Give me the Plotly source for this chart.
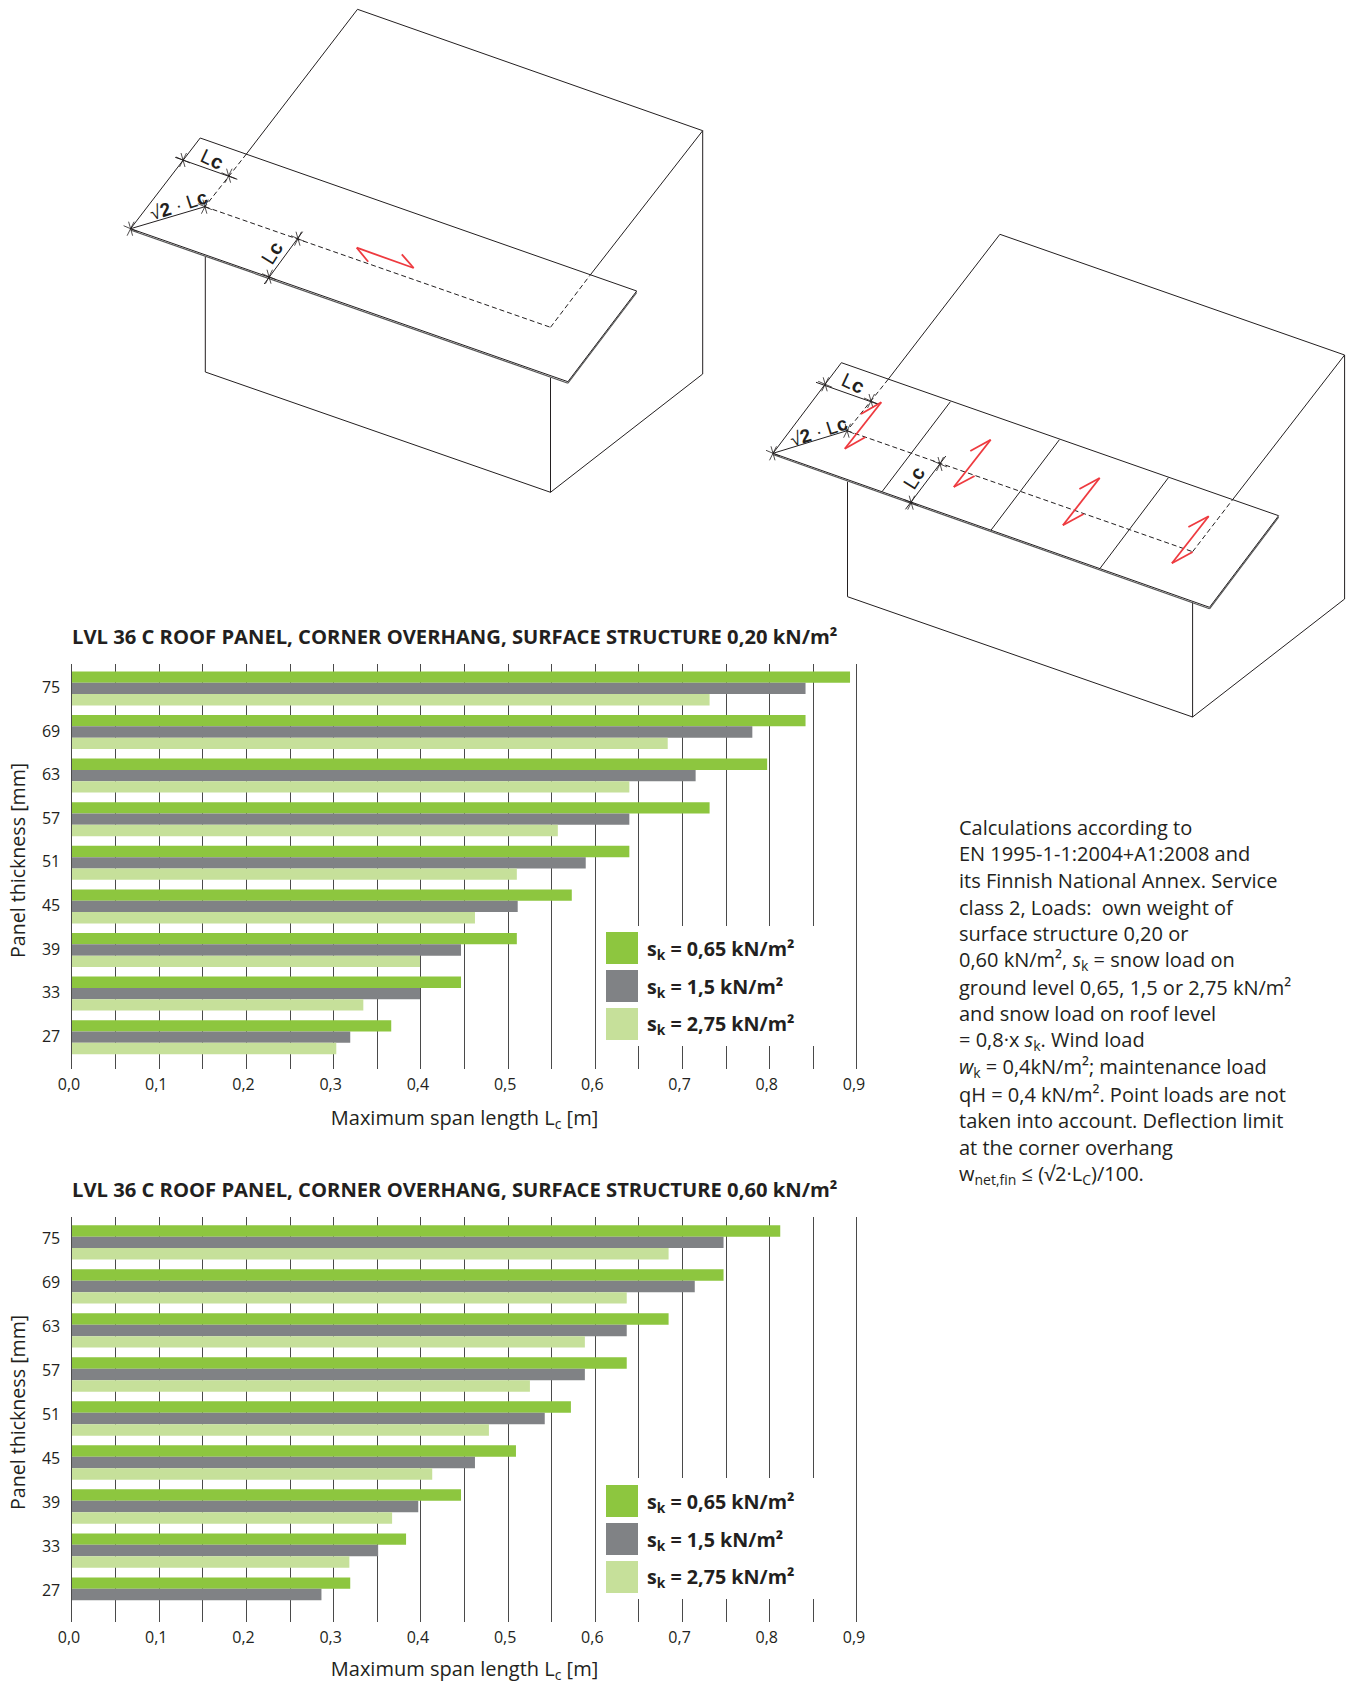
import plotly.graph_objects as go

W, H = 1352, 1684
FONT = "Open Sans"
INK = "#231f20"
GREEN, GRAY, LIGHT = "#8dc63f", "#808285", "#c6e09a"
GRID = "#4a4a4a"

thickness = ["75", "69", "63", "57", "51", "45", "39", "33", "27"]
series_names = ["sk = 0,65 kN/m²", "sk = 1,5 kN/m²", "sk = 2,75 kN/m²"]

a_065 = [0.892, 0.841, 0.797, 0.731, 0.639, 0.573, 0.510, 0.446, 0.366]
a_150 = [0.841, 0.780, 0.715, 0.639, 0.589, 0.511, 0.446, 0.399, 0.319]
a_275 = [0.731, 0.683, 0.639, 0.557, 0.510, 0.462, 0.399, 0.334, 0.303]

b_065 = [0.812, 0.747, 0.684, 0.636, 0.572, 0.509, 0.446, 0.383, 0.319]
b_150 = [0.747, 0.714, 0.636, 0.588, 0.542, 0.462, 0.397, 0.351, 0.286]
b_275 = [0.684, 0.636, 0.588, 0.525, 0.478, 0.413, 0.367, 0.318, None]

major_vals = [0, .1, .2, .3, .4, .5, .6, .7, .8, .9]
major_text = ["0,0", "0,1", "0,2", "0,3", "0,4", "0,5", "0,6", "0,7", "0,8", "0,9"]
minor_vals = [.05, .15, .25, .35, .45, .55, .65, .75, .85]

title_a = "LVL 36 C ROOF PANEL, CORNER OVERHANG, SURFACE STRUCTURE 0,20 kN/m²"
title_b = "LVL 36 C ROOF PANEL, CORNER OVERHANG, SURFACE STRUCTURE 0,60 kN/m²"
legend_texts = ["s<sub>k</sub> = 0,65 kN/m²", "s<sub>k</sub> = 1,5 kN/m²", "s<sub>k</sub> = 2,75 kN/m²"]

note_lines = [
    "Calculations according to",
    "EN 1995-1-1:2004+A1:2008 and",
    "its Finnish National Annex. Service",
    "class 2, Loads:  own weight of",
    "surface structure 0,20 or",
    "0,60 kN/m², <i>s</i><sub>k</sub> = snow load on",
    "ground level 0,65, 1,5 or 2,75 kN/m²",
    "and snow load on roof level",
    "= 0,8·x <i>s</i><sub>k</sub>. Wind load",
    "<i>w</i><sub>k</sub> = 0,4kN/m²; maintenance load",
    "qH = 0,4 kN/m². Point loads are not",
    "taken into account. Deflection limit",
    "at the corner overhang",
    "w<sub>net,fin</sub> ≤ (√2·L<sub>C</sub>)/100.",
]


def px(x):
    return x / W


def py(y):
    return 1 - y / H


shapes, annotations = [], []


def seg(x0, y0, x1, y1, color=INK, width=1, dash=None):
    line = dict(color=color, width=width)
    if dash:
        line["dash"] = dash
    shapes.append(dict(type="line", xref="paper", yref="paper", layer="above",
                       x0=px(x0), y0=py(y0), x1=px(x1), y1=py(y1), line=line))


def poly(points, **kw):
    for p, q in zip(points, points[1:]):
        seg(p[0], p[1], q[0], q[1], **kw)


def cross(x, y):
    seg(x - 7, y - 3, x + 7, y + 3, width=0.8)
    seg(x - 3.5, y + 7, x + 3.5, y - 7, width=0.8)
    seg(x - 2, y - 7, x + 2, y + 7, width=0.8)


def text(x, y, s, size, bold=False, angle=0, anchor="left", color=INK, font=FONT):
    annotations.append(dict(
        xref="paper", yref="paper", x=px(x), y=py(y), text=f"<b>{s}</b>" if bold else s,
        showarrow=False, xanchor=anchor, yanchor="middle", textangle=angle,
        font=dict(family=font, size=size, color=color), borderpad=0, borderwidth=0))


DASH = "5px,3px"
RED = "#ee3a3f"

# left diagram
poly([(357.5, 9.3), (702.7, 130.7), (702.7, 374), (550.5, 492.3), (205.3, 372), (205.3, 256.7)])
poly([(550.5, 377.7), (550.5, 492.3)])
poly([(357.5, 9.3), (246.4, 154)])
poly([(702.7, 130.7), (590, 275.3)])
poly([(200.2, 138), (636.7, 291), (567.9, 381.7), (130.6, 228.7), (200.2, 138)])
poly([(131, 230.2), (567.9, 383.2), (636.7, 292.5)], width=1.2, color="#555555")
poly([(246.4, 154), (204.9, 206.7), (550.5, 327.3), (590, 275.3)], dash=DASH)
poly([(130.6, 228.7), (204.9, 206.7)])
poly([(175.2, 157.3), (237.3, 179.3)])
poly([(302.6, 231.7), (264.2, 284)])
for c in [(130.6, 228.7), (204.9, 206.7), (298, 238.7), (269, 276.7), (183, 160), (228.6, 175.7)]:
    cross(*c)
poly([(368.2, 261.7), (356.7, 247.7), (413.7, 268), (401.8, 254.3)], color=RED, width=1.8)

# right diagram
poly([(999.9, 234.3), (1344.6, 355), (1344.6, 599), (1192.6, 717), (847.5, 596.7), (847.5, 481.7)])
poly([(1192.6, 602.3), (1192.6, 717)])
poly([(999.9, 234.3), (888.2, 379.3)])
poly([(1344.6, 355), (1232.9, 499.3)])
poly([(841.4, 362.7), (1278.6, 515.7), (1209.5, 607.3), (773, 453.3), (841.4, 362.7)])
poly([(773.5, 454.8), (1209.5, 608.8), (1278.6, 517.2)], width=1.2, color="#555555")
poly([(888.2, 379.3), (847.1, 430.7), (1192.6, 551.7), (1232.9, 499.3)], dash=DASH)
poly([(773, 453.3), (847.1, 430.7)])
poly([(950.4, 401.7), (882, 491.7)])
poly([(1059.4, 439.7), (991.1, 530)])
poly([(1168.4, 477.7), (1100.1, 568.3)])
poly([(816, 382.3), (877.4, 404)])
poly([(945.8, 456), (905.5, 509.3)])
for c in [(773, 453.3), (847.1, 430.7), (940, 464), (911.2, 502.7), (825.2, 384.3), (871, 401)]:
    cross(*c)
for z in [
    [(861, 414), (881.3, 402.3), (844.8, 448.7), (865.2, 437.3)],
    [(970.3, 451), (990.7, 439.7), (953.8, 487), (974.6, 476)],
    [(1079.4, 489), (1099.7, 478), (1062.9, 525.3), (1083.6, 514)],
    [(1188.4, 527), (1208.7, 516.3), (1171.9, 563.3), (1192.6, 552)],
]:
    poly(z, color=RED, width=1.8)

# dimension labels
for x, y, a in [(212, 159, 25), (853, 383, 25)]:
    text(x, y, "L<b>c</b>", 20, angle=a, anchor="center", font="Liberation Sans")
for x, y, a in [(272, 253, -58), (914, 478, -58)]:
    text(x, y, "L<b>c</b>", 20, angle=a, anchor="center", font="Liberation Sans")
for x, y in [(178, 205), (819, 431)]:
    text(x, y, "√<b>2</b> · L<b>c</b>", 19, angle=-18, anchor="center", font="Liberation Sans")

# chart titles
text(72, 636, title_a, 20.2, bold=True)
text(72, 1189, title_b, 20.2, bold=True)

# y-axis titles
text(17, 861, "Panel thickness [mm]", 19.6, angle=-90, anchor="center")
text(17, 1413, "Panel thickness [mm]", 19.6, angle=-90, anchor="center")


def legend_block(rect_y0, rect_y1, swatch_tops, label_ys):
    shapes.append(dict(type="rect", xref="paper", yref="paper", layer="above",
                       x0=px(600), x1=px(826), y0=py(rect_y0), y1=py(rect_y1),
                       fillcolor="white", line=dict(width=0)))
    for top, col, ly, label in zip(swatch_tops, [GREEN, GRAY, LIGHT], label_ys, legend_texts):
        shapes.append(dict(type="rect", xref="paper", yref="paper", layer="above",
                           x0=px(606), x1=px(638), y0=py(top), y1=py(top + 32),
                           fillcolor=col, line=dict(width=0)))
        text(646.5, ly, label, 19.7, bold=True)


legend_block(926, 1046, [932, 970, 1008], [949, 987, 1024])
legend_block(1478, 1599, [1485, 1523, 1561], [1502, 1540, 1577])

for i, line in enumerate(note_lines):
    text(959, 827 + 26.7 * i, line, 20)

fig = go.Figure()
for xa, ya, vals in [("x", "y", (a_065, a_150, a_275)), ("x2", "y2", (b_065, b_150, b_275))]:
    for name, col, v in zip(series_names, [GREEN, GRAY, LIGHT], vals):
        fig.add_trace(go.Bar(x=v, y=thickness, name=name, orientation="h", marker=dict(color=col, line=dict(width=0)),
                             xaxis=xa, yaxis=ya, showlegend=False, offsetgroup=name))


# the range overshoots 0 and 0,9 a little so both end gridlines are drawn
X_PAD = 0.002
PX_PER_UNIT = 785 / 0.9


def x_axis(anchor, title, standoff):
    pad = X_PAD * PX_PER_UNIT
    return dict(anchor=anchor, domain=[px(72 - pad), px(857 + pad)], range=[-X_PAD, 0.9 + X_PAD], tickmode="array",
                tickvals=major_vals, ticktext=major_text, showgrid=True, gridcolor=GRID, gridwidth=1,
                minor=dict(tickmode="array", tickvals=minor_vals, showgrid=True, gridcolor=GRID, gridwidth=1, ticks=""),
                zeroline=False, showline=False, ticks="", ticklabelshift=-3, ticklabelstandoff=4,
                tickfont=dict(family=FONT, size=16, color=INK), automargin=False,
                title=dict(text=title, font=dict(family=FONT, size=20, color=INK), standoff=standoff))


def y_axis(anchor, dom_top, dom_bot, rng, shift):
    return dict(anchor=anchor, domain=[py(dom_bot), py(dom_top)], type="category", categoryorder="array",
                categoryarray=thickness, range=rng, showgrid=False, zeroline=False, showline=False,
                ticks="", ticklabelstandoff=9, ticklabelshift=shift,
                tickfont=dict(family=FONT, size=16, color=INK), automargin=False)


span_title = "Maximum span length L<sub>c</sub> [m]"
fig.update_layout(
    width=W, height=H, margin=dict(l=0, r=0, t=0, b=0), autosize=False,
    paper_bgcolor="white", plot_bgcolor="white", showlegend=False,
    barmode="group", bargap=0.22, bargroupgap=0,
    font=dict(family=FONT, color=INK),
    xaxis=x_axis("y", span_title, 16), yaxis=y_axis("x", 664, 1069, [8.73, -0.56], 1),
    xaxis2=x_axis("y2", span_title, 18), yaxis2=y_axis("x2", 1217.3, 1622.3, [8.63, -0.57], 4),
    shapes=shapes, annotations=annotations,
)

fig.write_html("out.html", config=dict(displayModeBar=False),
               post_script="document.body.style.margin='0';document.body.style.overflow='hidden';")
